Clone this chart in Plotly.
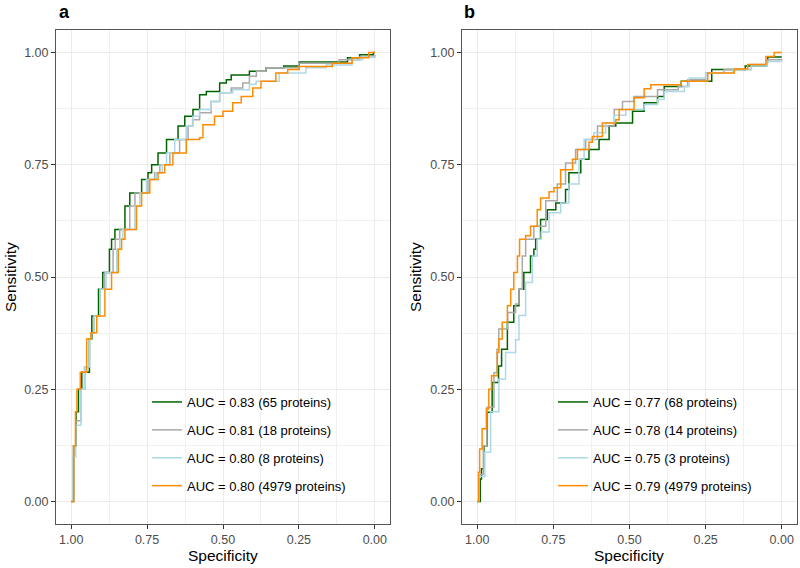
import plotly.graph_objects as go

# ---- data (specificity, sensitivity vertices of each ROC step curve) ----
colors = ["#006400", "#a9a9a9", "#add8e6", "#ff8c00"]

a_labels = ["AUC = 0.83 (65 proteins)", "AUC = 0.81 (18 proteins)",
            "AUC = 0.80 (8 proteins)", "AUC = 0.80 (4979 proteins)"]
b_labels = ["AUC = 0.77 (68 proteins)", "AUC = 0.78 (14 proteins)",
            "AUC = 0.75 (3 proteins)", "AUC = 0.79 (4979 proteins)"]

# panel a
a_green_spec = [1.0, 0.992, 0.984, 0.976, 0.965, 0.94, 0.932, 0.91, 0.896, 0.874, 0.867, 0.856, 0.823,
                0.807, 0.768, 0.747, 0.735, 0.714, 0.686, 0.648, 0.626, 0.599, 0.577, 0.555, 0.511,
                0.489, 0.473, 0.413, 0.358, 0.30, 0.249, 0.09, 0.05, 0.005, 0.0]
a_green_sens = [0.0, 0.124, 0.2, 0.25, 0.288, 0.362, 0.413, 0.473, 0.51, 0.562, 0.584, 0.606, 0.658,
                0.687, 0.717, 0.732, 0.75, 0.776, 0.806, 0.836, 0.858, 0.873, 0.906, 0.913, 0.932,
                0.939, 0.95, 0.958, 0.966, 0.97, 0.979, 0.988, 0.995, 1.0, 1.0]

a_gray_spec = [1.0, 0.992, 0.985, 0.968, 0.955, 0.94, 0.935, 0.925, 0.905, 0.89, 0.862, 0.855, 0.84,
               0.807, 0.79, 0.747, 0.725, 0.708, 0.675, 0.643, 0.615, 0.60, 0.577, 0.539, 0.511,
               0.473, 0.435, 0.413, 0.39, 0.358, 0.25, 0.118, 0.05, 0.0]
a_gray_sens = [0.0, 0.124, 0.18, 0.25, 0.3, 0.362, 0.376, 0.413, 0.473, 0.51, 0.562, 0.584, 0.606,
               0.658, 0.687, 0.717, 0.732, 0.75, 0.776, 0.806, 0.836, 0.85, 0.866, 0.891, 0.91,
               0.921, 0.932, 0.947, 0.958, 0.966, 0.976, 0.984, 0.99, 0.995]

a_blue_spec = [1.0, 0.994, 0.985, 0.968, 0.957, 0.94, 0.935, 0.925, 0.905, 0.885, 0.85, 0.84, 0.83,
               0.79, 0.774, 0.752, 0.72, 0.70, 0.686, 0.659, 0.621, 0.599, 0.577, 0.539, 0.511,
               0.468, 0.413, 0.391, 0.315, 0.227, 0.16, 0.075, 0.04, 0.0]
a_blue_sens = [0.0, 0.1, 0.17, 0.25, 0.3, 0.362, 0.376, 0.413, 0.473, 0.51, 0.562, 0.584, 0.606,
               0.658, 0.687, 0.717, 0.732, 0.75, 0.776, 0.806, 0.836, 0.858, 0.873, 0.891, 0.91,
               0.917, 0.929, 0.936, 0.954, 0.966, 0.972, 0.984, 0.99, 0.99]

a_orange_spec = [1.0, 0.992, 0.986, 0.981, 0.97, 0.949, 0.935, 0.916, 0.889, 0.867, 0.845, 0.834, 0.823,
                 0.785, 0.768, 0.741, 0.714, 0.692, 0.665, 0.621, 0.577, 0.566, 0.528, 0.50, 0.468,
                 0.44, 0.402, 0.375, 0.326, 0.287, 0.249, 0.14, 0.075, 0.02, 0.0]
a_orange_sens = [0.0, 0.124, 0.2, 0.25, 0.288, 0.362, 0.376, 0.413, 0.473, 0.51, 0.562, 0.584, 0.606,
                 0.658, 0.687, 0.717, 0.732, 0.75, 0.776, 0.806, 0.81, 0.839, 0.858, 0.869, 0.888,
                 0.902, 0.921, 0.936, 0.954, 0.962, 0.969, 0.976, 0.988, 1.0, 1.0]

# panel b
b_green_spec = [1.0, 0.99, 0.986, 0.978, 0.967, 0.951, 0.93, 0.92, 0.901, 0.88, 0.863, 0.847, 0.825,
                0.814, 0.808, 0.792, 0.77, 0.742, 0.71, 0.699, 0.66, 0.633, 0.60, 0.567, 0.545,
                0.49, 0.452, 0.408, 0.386, 0.33, 0.23, 0.12, 0.05, 0.046, 0.0]
b_green_sens = [0.0, 0.05, 0.073, 0.124, 0.199, 0.265, 0.302, 0.339, 0.399, 0.436, 0.473, 0.51, 0.547,
                0.562, 0.584, 0.628, 0.65, 0.665, 0.695, 0.732, 0.762, 0.784, 0.806, 0.836, 0.843,
                0.869, 0.888, 0.902, 0.924, 0.936, 0.962, 0.97, 0.98, 0.99, 0.99]

b_gray_spec = [1.0, 0.995, 0.98, 0.968, 0.945, 0.935, 0.929, 0.90, 0.874, 0.863, 0.852, 0.841, 0.814,
               0.775, 0.737, 0.71, 0.677, 0.644, 0.605, 0.55, 0.523, 0.485, 0.408, 0.34, 0.309,
               0.25, 0.19, 0.10, 0.05, 0.0]
b_gray_sens = [0.0, 0.06, 0.124, 0.21, 0.287, 0.339, 0.384, 0.421, 0.44, 0.473, 0.547, 0.584, 0.613,
               0.67, 0.707, 0.754, 0.784, 0.806, 0.836, 0.873, 0.891, 0.902, 0.917, 0.924, 0.939,
               0.954, 0.962, 0.973, 0.984, 0.985]

b_blue_spec = [1.0, 0.995, 0.975, 0.956, 0.929, 0.907, 0.874, 0.863, 0.841, 0.819, 0.803, 0.79, 0.764,
               0.726, 0.699, 0.666, 0.649, 0.617, 0.578, 0.55, 0.512, 0.452, 0.408, 0.386, 0.32,
               0.304, 0.25, 0.16, 0.10, 0.05, 0.0]
b_blue_sens = [0.0, 0.056, 0.11, 0.2, 0.273, 0.332, 0.36, 0.414, 0.488, 0.547, 0.584, 0.60, 0.643,
               0.665, 0.707, 0.762, 0.806, 0.821, 0.843, 0.86, 0.873, 0.884, 0.895, 0.913, 0.924,
               0.943, 0.954, 0.962, 0.97, 0.98, 0.98]

b_orange_spec = [1.0, 0.996, 0.992, 0.984, 0.97, 0.962, 0.953, 0.934, 0.929, 0.918, 0.901, 0.89, 0.88,
                 0.868, 0.861, 0.841, 0.825, 0.803, 0.792, 0.764, 0.748, 0.726, 0.687, 0.671, 0.633,
                 0.622, 0.589, 0.545, 0.534, 0.485, 0.452, 0.43, 0.33, 0.243, 0.156, 0.112, 0.052,
                 0.025, 0.0]
b_orange_sens = [0.0, 0.065, 0.117, 0.162, 0.206, 0.25, 0.28, 0.332, 0.362, 0.399, 0.436, 0.473, 0.51,
                 0.547, 0.584, 0.592, 0.613, 0.65, 0.676, 0.69, 0.699, 0.739, 0.762, 0.784, 0.80,
                 0.813, 0.843, 0.85, 0.873, 0.899, 0.919, 0.928, 0.936, 0.954, 0.963, 0.973, 0.991,
                 1.0, 1.0]

W, H = 800, 568
FONT = "Liberation Sans, Arial, Helvetica, sans-serif"


def fx(p):
    return p / W


def fy(p):
    return 1 - p / H


panels = [
    ("x", "y", "legend", a_labels,
     [(a_green_spec, a_green_sens), (a_gray_spec, a_gray_sens),
      (a_blue_spec, a_blue_sens), (a_orange_spec, a_orange_sens)]),
    ("x2", "y2", "legend2", b_labels,
     [(b_green_spec, b_green_sens), (b_gray_spec, b_gray_sens),
      (b_blue_spec, b_blue_sens), (b_orange_spec, b_orange_sens)]),
]

fig = go.Figure()
for xa, ya, leg, labels, curves in panels:
    for i, (spec, sens) in enumerate(curves):
        fig.add_trace(go.Scatter(
            x=spec, y=sens, mode="lines", name=labels[i],
            line=dict(color=colors[i], width=1.5, shape="hv"),
            xaxis=xa, yaxis=ya, legend=leg, legendgroup=f"{leg}{i}",
        ))

axis_common = dict(
    showgrid=True, gridcolor="#ebebeb", gridwidth=1,
    minor=dict(dtick=0.125, showgrid=True, gridcolor="#f0f0f0", gridwidth=0.6),
    zeroline=False, showline=True, mirror=True, linecolor="#555555", linewidth=1,
    ticks="outside", ticklen=4, tickcolor="#333333", tickwidth=1,
    tickfont=dict(family=FONT, size=12.5, color="#4d4d4d"),
    tickmode="linear", tick0=0, dtick=0.25, tickformat=".2f",
)

y_dom = [fy(524), fy(30)]
fig.update_layout(
    width=W, height=H, margin=dict(l=0, r=0, t=0, b=0),
    plot_bgcolor="white", paper_bgcolor="white",
    font=dict(family=FONT, color="black"),
    xaxis=dict(domain=[fx(56), fx(390)], range=[1.05, -0.05], anchor="y", **axis_common),
    yaxis=dict(domain=y_dom, range=[-0.05, 1.05], anchor="x", **axis_common),
    xaxis2=dict(domain=[fx(462), fx(797)], range=[1.05, -0.05], anchor="y2", **axis_common),
    yaxis2=dict(domain=y_dom, range=[-0.05, 1.05], anchor="x2", **axis_common),
)

legend_common = dict(
    bgcolor="rgba(0,0,0,0)", borderwidth=0, xanchor="left", yanchor="top",
    font=dict(family=FONT, size=13, color="black"), tracegroupgap=8, itemwidth=30,
)
fig.update_layout(
    legend=dict(x=fx(147), y=fy(387), **legend_common),
    legend2=dict(x=fx(553), y=fy(387), **legend_common),
)

# legend background boxes (ggplot draws them over the grid)
for x0, x1 in [(145, 352), (547, 757)]:
    fig.add_shape(type="rect", xref="paper", yref="paper",
                  x0=fx(x0), x1=fx(x1), y0=fy(514), y1=fy(355),
                  fillcolor="white", line=dict(width=0), layer="between")

# panel tags and axis titles
for tag, x0, xc in [("a", 57, 223), ("b", 462, 629)]:
    fig.add_annotation(text=f"<b>{tag}</b>", xref="paper", yref="paper", x=fx(x0), y=fy(12),
                       xanchor="left", yanchor="middle", showarrow=False,
                       font=dict(family=FONT, size=18, color="black"))
    fig.add_annotation(text="Specificity", xref="paper", yref="paper", x=fx(xc), y=fy(555),
                       xanchor="center", yanchor="middle", showarrow=False,
                       font=dict(family=FONT, size=15.5, color="black"))
for xs in [10, 415]:
    fig.add_annotation(text="Sensitivity", xref="paper", yref="paper", x=fx(xs), y=fy(277),
                       xanchor="center", yanchor="middle", textangle=-90, showarrow=False,
                       font=dict(family=FONT, size=15.5, color="black"))

# drop the default body margin so the figure fills the window exactly
fig.write_html("out.html", config={"displayModeBar": False},
               post_script="document.body.style.margin='0';")
